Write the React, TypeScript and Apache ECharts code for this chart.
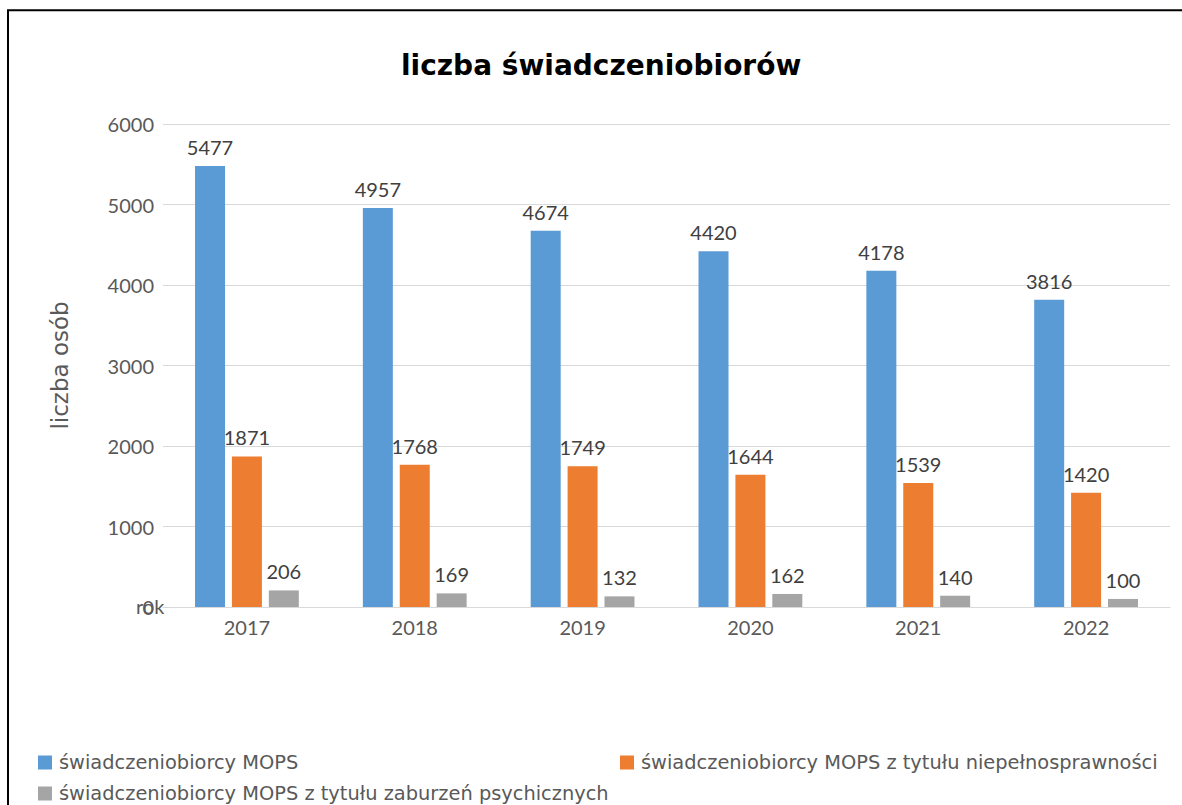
import React, { useEffect, useRef } from "react";
import * as echarts from "echarts";

const years = ["2017", "2018", "2019", "2020", "2021", "2022"];
const mops = [5477, 4957, 4674, 4420, 4178, 3816];
const niepelno = [1871, 1768, 1749, 1644, 1539, 1420];
const zaburzenia = [206, 169, 132, 162, 140, 100];
const seriesNames = [
  "świadczeniobiorcy MOPS",
  "świadczeniobiorcy MOPS z tytułu niepełnosprawności",
  "świadczeniobiorcy MOPS z tytułu zaburzeń psychicznych",
];
const colors = ["#5B9BD5", "#ED7D31", "#A5A5A5"];

const FONT = "Lato, 'Open Sans', sans-serif";
const WIDE = "'DejaVu Sans', sans-serif";

export default function App() {
  const ref = useRef<HTMLDivElement>(null);
  useEffect(() => {
    if (!ref.current) return;
    const chart = echarts.init(ref.current, undefined, { renderer: "svg" });
    const dataSets = [mops, niepelno, zaburzenia];
    const legendStyle = {
      orient: "horizontal" as const,
      itemWidth: 14,
      itemHeight: 14,
      itemGap: 10,
      icon: "rect",
      textStyle: { fontFamily: WIDE, fontSize: 19.4, color: "#595959", padding: [0, 0, 0, 2] },
    };
    chart.setOption({
      animation: false,
      backgroundColor: "#ffffff",
      title: {
        text: "liczba świadczeniobiorów",
        left: 396,
        top: 46,
        textStyle: { fontFamily: WIDE, fontSize: 28, fontWeight: "bold", color: "#000000" },
      },
      graphic: [
        {
          type: "rect",
          shape: { x: 8, y: 10.3, width: 1300, height: 900 },
          style: { fill: "none", stroke: "#000000", lineWidth: 2 },
          silent: true,
        },
        {
          type: "text",
          left: 136,
          top: 596,
          style: { text: "rok", fontFamily: FONT, fontSize: 20, fill: "#595959" },
          silent: true,
        },
      ],
      legend: [
        { ...legendStyle, data: [seriesNames[0]], left: 33, top: 748 },
        { ...legendStyle, data: [seriesNames[1]], left: 615, top: 748 },
        { ...legendStyle, data: [seriesNames[2]], left: 33, top: 779 },
      ],
      grid: { left: 163, right: 12, top: 124, bottom: 198, containLabel: false },
      xAxis: {
        type: "category",
        data: years,
        axisLine: { lineStyle: { color: "#D9D9D9", width: 1 } },
        axisTick: { show: false },
        axisLabel: { fontFamily: FONT, fontSize: 20, color: "#595959", margin: 10 },
      },
      yAxis: {
        type: "value",
        min: 0,
        max: 6000,
        interval: 1000,
        name: "liczba osób",
        nameLocation: "middle",
        nameGap: 92,
        nameTextStyle: { fontFamily: WIDE, fontSize: 23, color: "#595959" },
        axisLine: { show: false },
        axisTick: { show: false },
        axisLabel: {
          fontFamily: FONT,
          fontSize: 20,
          color: "#595959",
          margin: 9,
          formatter: (v: number) => String(v),
        },
        splitLine: { lineStyle: { color: "#D9D9D9", width: 1 } },
      },
      series: dataSets.map((d, i) => ({
        type: "bar",
        name: seriesNames[i],
        data: d,
        barWidth: 30,
        barGap: "23%",
        itemStyle: { color: colors[i] },
        label: {
          show: true,
          position: "top",
          distance: 9,
          fontFamily: FONT,
          fontSize: 20,
          color: "#404040",
        },
      })),
    });
    return () => chart.dispose();
  }, []);
  return (
    <div
      ref={ref}
      style={{ position: "absolute", left: 0, top: 0, width: 1182, height: 805 }}
    />
  );
}
